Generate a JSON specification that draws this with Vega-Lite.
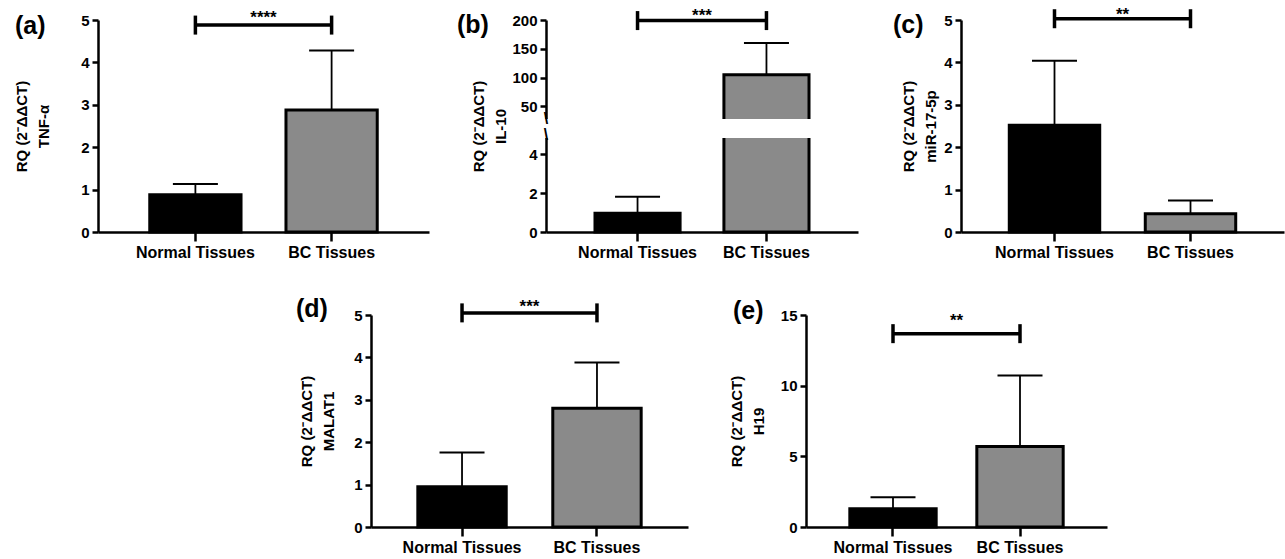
{
  "$schema": "https://vega.github.io/schema/vega-lite/v6.json",
  "background": "white",
  "padding": {"left": 14, "top": 6, "right": 5, "bottom": 5},
  "config": {
    "view": {"stroke": null},
    "font": "Liberation Sans",
    "axis": {"domainColor": "#000", "domainWidth": 2.5, "tickColor": "#000", "tickWidth": 2.5, "labelColor": "#000", "labelFont": "Liberation Sans", "labelFontSize": 15, "labelFontWeight": "bold", "titleColor": "#000", "titleFont": "Liberation Sans", "titleFontSize": 15, "titleFontWeight": "bold", "grid": false, "titleLineHeight": 22, "labelOverlap": false},
    "axisX": {"labelAngle": 0, "tickSize": 9, "labelPadding": 3, "labelFontSize": 16},
    "axisY": {"tickSize": 6, "labelPadding": 3},
    "title": {"font": "Liberation Sans", "fontSize": 25, "fontWeight": "bold", "color": "#000", "anchor": "start", "frame": "group", "offset": 0, "baseline": "alphabetic"},
    "text": {"font": "Liberation Sans", "fontSize": 17, "fontWeight": "bold", "baseline": "alphabetic", "align": "center", "color": "#000"},
    "tick": {"opacity": 1, "color": "#000"}
  },
  "vconcat": [
    {
      "bounds": "flush",
      "spacing": 117,
      "hconcat": [
        {
          "width": 331, "height": 212,
          "title": {"text": "(a)", "dx": -83, "dy": 34},
          "data": {"values": [
            {"cat": "Normal Tissues", "mean": 0.88, "upper": 1.13, "sig": 4.88},
            {"cat": "BC Tissues", "mean": 2.88, "upper": 4.28, "sig": 4.88}
          ]},
          "layer": [
            {"mark": {"type": "bar", "stroke": "#000", "strokeWidth": 3},
             "encoding": {
               "x": {"field": "cat", "type": "nominal", "sort": null, "scale": {"domain": ["Normal Tissues", "BC Tissues"], "paddingInner": 0.33, "paddingOuter": 0.38}, "axis": {"title": null}},
               "y": {"field": "mean", "type": "quantitative", "scale": {"domain": [0, 5], "nice": false}, "axis": {"values": [0, 1, 2, 3, 4, 5], "title": ["RQ (2⁻ΔΔCT)", "TNF-α"], "titlePadding": 29}},
               "fill": {"field": "cat", "type": "nominal", "scale": {"domain": ["Normal Tissues", "BC Tissues"], "range": ["#000000", "#8a8a8a"]}, "legend": null}}},
            {"mark": {"type": "rule", "strokeWidth": 1.8, "color": "#000"},
             "encoding": {"x": {"field": "cat", "type": "nominal", "sort": null}, "y": {"field": "mean", "type": "quantitative"}, "y2": {"field": "upper"}}},
            {"mark": {"type": "tick", "orient": "horizontal", "size": 45, "thickness": 2, "color": "#000", "opacity": 1},
             "encoding": {"x": {"field": "cat", "type": "nominal", "sort": null}, "y": {"field": "upper", "type": "quantitative"}}},
            {"mark": {"type": "line", "strokeWidth": 3.5, "color": "#000"},
             "encoding": {"x": {"field": "cat", "type": "nominal", "sort": null}, "y": {"field": "sig", "type": "quantitative"}}},
            {"mark": {"type": "tick", "orient": "vertical", "size": 19, "thickness": 3.5, "color": "#000", "opacity": 1},
             "encoding": {"x": {"field": "cat", "type": "nominal", "sort": null}, "y": {"field": "sig", "type": "quantitative"}}},
            {"data": {"values": [{"stars": "****", "starsY": 4.93}]},
             "mark": {"type": "text"},
             "encoding": {"y": {"field": "starsY", "type": "quantitative"}, "text": {"field": "stars"}}}
          ]
        },
        {
          "bounds": "flush",
          "spacing": 103,
          "hconcat": [
            {
              "width": 312, "height": 212,
              "title": {"text": "(b)", "dx": -89, "dy": 35},
              "data": {"values": [
                {"cat": "Normal Tissues", "mean": 0.97, "upper": 1.82, "sig": 199},
                {"cat": "BC Tissues", "mean": 105, "upper": 160, "sig": 199}
              ]},
              "layer": [
                {"mark": {"type": "bar", "stroke": "#000", "strokeWidth": 3},
                 "encoding": {
                   "x": {"field": "cat", "type": "nominal", "sort": null, "scale": {"domain": ["Normal Tissues", "BC Tissues"], "paddingInner": 0.34, "paddingOuter": 0.38}, "axis": {"title": null}},
                   "y": {"field": "mean", "type": "quantitative", "scale": {"domain": [0, 5, 28, 200], "range": [212, 115, 99, 0], "nice": false, "zero": false}, "axis": {"values": [0, 2, 4, 50, 100, 150, 200], "tickCount": 10, "format": "d", "title": ["RQ (2⁻ΔΔCT)", "IL-10"], "titlePadding": 3}},
                   "fill": {"field": "cat", "type": "nominal", "scale": {"domain": ["Normal Tissues", "BC Tissues"], "range": ["#000000", "#8a8a8a"]}, "legend": null}}},
                {"mark": {"type": "rule", "strokeWidth": 1.8, "color": "#000"},
                 "encoding": {"x": {"field": "cat", "type": "nominal", "sort": null}, "y": {"field": "mean", "type": "quantitative"}, "y2": {"field": "upper"}}},
                {"mark": {"type": "tick", "orient": "horizontal", "size": 45, "thickness": 2, "color": "#000", "opacity": 1},
                 "encoding": {"x": {"field": "cat", "type": "nominal", "sort": null}, "y": {"field": "upper", "type": "quantitative"}}},
                {"data": {"values": [{"g0": 5.15, "g1": 23.7}]},
                 "mark": {"type": "rect", "fill": "white", "stroke": "white", "strokeWidth": 6},
                 "encoding": {"y": {"field": "g0", "type": "quantitative"}, "y2": {"field": "g1"}}},
                {"data": {"values": [{"cat": "Normal Tissues", "brk": 28, "glyph": "\\"}, {"cat": "Normal Tissues", "brk": 5, "glyph": "\\"}]},
                 "mark": {"type": "text", "baseline": "middle", "fontSize": 16, "fontWeight": "bold"},
                 "encoding": {"x": {"field": "cat", "type": "nominal", "sort": null, "bandPosition": -0.576}, "y": {"field": "brk", "type": "quantitative"}, "text": {"field": "glyph"}}},
                {"mark": {"type": "line", "strokeWidth": 3.5, "color": "#000"},
                 "encoding": {"x": {"field": "cat", "type": "nominal", "sort": null}, "y": {"field": "sig", "type": "quantitative"}}},
                {"mark": {"type": "tick", "orient": "vertical", "size": 19, "thickness": 3.5, "color": "#000", "opacity": 1},
                 "encoding": {"x": {"field": "cat", "type": "nominal", "sort": null}, "y": {"field": "sig", "type": "quantitative"}}},
                {"data": {"values": [{"stars": "***", "starsY": 199}]},
                 "mark": {"type": "text"},
                 "encoding": {"y": {"field": "starsY", "type": "quantitative"}, "text": {"field": "stars"}}}
              ]
            },
            {
              "width": 323, "height": 212,
              "title": {"text": "(c)", "dx": -68, "dy": 36},
              "data": {"values": [
                {"cat": "Normal Tissues", "mean": 2.52, "upper": 4.04, "sig": 5.03},
                {"cat": "BC Tissues", "mean": 0.43, "upper": 0.74, "sig": 5.03}
              ]},
              "layer": [
                {"mark": {"type": "bar", "stroke": "#000", "strokeWidth": 3},
                 "encoding": {
                   "x": {"field": "cat", "type": "nominal", "sort": null, "scale": {"domain": ["Normal Tissues", "BC Tissues"], "paddingInner": 0.335, "paddingOuter": 0.355}, "axis": {"title": null}},
                   "y": {"field": "mean", "type": "quantitative", "scale": {"domain": [0, 5], "nice": false}, "axis": {"values": [0, 1, 2, 3, 4, 5], "title": ["RQ (2⁻ΔΔCT)", "miR-17-5p"], "titlePadding": 5}},
                   "fill": {"field": "cat", "type": "nominal", "scale": {"domain": ["Normal Tissues", "BC Tissues"], "range": ["#000000", "#8a8a8a"]}, "legend": null}}},
                {"mark": {"type": "rule", "strokeWidth": 1.8, "color": "#000"},
                 "encoding": {"x": {"field": "cat", "type": "nominal", "sort": null}, "y": {"field": "mean", "type": "quantitative"}, "y2": {"field": "upper"}}},
                {"mark": {"type": "tick", "orient": "horizontal", "size": 45, "thickness": 2, "color": "#000", "opacity": 1},
                 "encoding": {"x": {"field": "cat", "type": "nominal", "sort": null}, "y": {"field": "upper", "type": "quantitative"}}},
                {"mark": {"type": "line", "strokeWidth": 3.5, "color": "#000"},
                 "encoding": {"x": {"field": "cat", "type": "nominal", "sort": null}, "y": {"field": "sig", "type": "quantitative"}}},
                {"mark": {"type": "tick", "orient": "vertical", "size": 19, "thickness": 3.5, "color": "#000", "opacity": 1},
                 "encoding": {"x": {"field": "cat", "type": "nominal", "sort": null}, "y": {"field": "sig", "type": "quantitative"}}},
                {"data": {"values": [{"stars": "**", "starsY": 5.0}]},
                 "mark": {"type": "text"},
                 "encoding": {"y": {"field": "starsY", "type": "quantitative"}, "text": {"field": "stars"}}}
              ]
            }
          ]
        }
      ]
    },
    {
      "bounds": "flush",
      "spacing": 118,
      "hconcat": [
        {"width": 155, "height": 10, "data": {"values": [{}]}, "mark": {"type": "point", "opacity": 0}},
        {
          "width": 317, "height": 212,
          "title": {"text": "(d)", "dx": -75, "dy": 28},
          "data": {"values": [
            {"cat": "Normal Tissues", "mean": 0.95, "upper": 1.76, "sig": 5.05},
            {"cat": "BC Tissues", "mean": 2.80, "upper": 3.88, "sig": 5.05}
          ]},
          "layer": [
            {"mark": {"type": "bar", "stroke": "#000", "strokeWidth": 3},
             "encoding": {
               "x": {"field": "cat", "type": "nominal", "sort": null, "scale": {"domain": ["Normal Tissues", "BC Tissues"], "paddingInner": 0.345, "paddingOuter": 0.347}, "axis": {"title": null}},
               "y": {"field": "mean", "type": "quantitative", "scale": {"domain": [0, 5], "nice": false}, "axis": {"values": [0, 1, 2, 3, 4, 5], "title": ["RQ (2⁻ΔΔCT)", "MALAT1"], "titlePadding": 17}},
               "fill": {"field": "cat", "type": "nominal", "scale": {"domain": ["Normal Tissues", "BC Tissues"], "range": ["#000000", "#8a8a8a"]}, "legend": null}}},
            {"mark": {"type": "rule", "strokeWidth": 1.8, "color": "#000"},
             "encoding": {"x": {"field": "cat", "type": "nominal", "sort": null}, "y": {"field": "mean", "type": "quantitative"}, "y2": {"field": "upper"}}},
            {"mark": {"type": "tick", "orient": "horizontal", "size": 45, "thickness": 2, "color": "#000", "opacity": 1},
             "encoding": {"x": {"field": "cat", "type": "nominal", "sort": null}, "y": {"field": "upper", "type": "quantitative"}}},
            {"mark": {"type": "line", "strokeWidth": 3.5, "color": "#000"},
             "encoding": {"x": {"field": "cat", "type": "nominal", "sort": null}, "y": {"field": "sig", "type": "quantitative"}}},
            {"mark": {"type": "tick", "orient": "vertical", "size": 19, "thickness": 3.5, "color": "#000", "opacity": 1},
             "encoding": {"x": {"field": "cat", "type": "nominal", "sort": null}, "y": {"field": "sig", "type": "quantitative"}}},
            {"data": {"values": [{"stars": "***", "starsY": 5.07}]},
             "mark": {"type": "text"},
             "encoding": {"y": {"field": "starsY", "type": "quantitative"}, "text": {"field": "stars"}}}
          ]
        },
        {
          "width": 301, "height": 212,
          "title": {"text": "(e)", "dx": -73, "dy": 20},
          "data": {"values": [
            {"cat": "Normal Tissues", "mean": 1.30, "upper": 2.10, "sig": 13.68},
            {"cat": "BC Tissues", "mean": 5.70, "upper": 10.72, "sig": 13.68}
          ]},
          "layer": [
            {"mark": {"type": "bar", "stroke": "#000", "strokeWidth": 3},
             "encoding": {
               "x": {"field": "cat", "type": "nominal", "sort": null, "scale": {"domain": ["Normal Tissues", "BC Tissues"], "paddingInner": 0.32, "paddingOuter": 0.345}, "axis": {"title": null}},
               "y": {"field": "mean", "type": "quantitative", "scale": {"domain": [0, 15], "nice": false}, "axis": {"values": [0, 5, 10, 15], "title": ["RQ (2⁻ΔΔCT)", "H19"], "titlePadding": 14}},
               "fill": {"field": "cat", "type": "nominal", "scale": {"domain": ["Normal Tissues", "BC Tissues"], "range": ["#000000", "#8a8a8a"]}, "legend": null}}},
            {"mark": {"type": "rule", "strokeWidth": 1.8, "color": "#000"},
             "encoding": {"x": {"field": "cat", "type": "nominal", "sort": null}, "y": {"field": "mean", "type": "quantitative"}, "y2": {"field": "upper"}}},
            {"mark": {"type": "tick", "orient": "horizontal", "size": 45, "thickness": 2, "color": "#000", "opacity": 1},
             "encoding": {"x": {"field": "cat", "type": "nominal", "sort": null}, "y": {"field": "upper", "type": "quantitative"}}},
            {"mark": {"type": "line", "strokeWidth": 3.5, "color": "#000"},
             "encoding": {"x": {"field": "cat", "type": "nominal", "sort": null}, "y": {"field": "sig", "type": "quantitative"}}},
            {"mark": {"type": "tick", "orient": "vertical", "size": 19, "thickness": 3.5, "color": "#000", "opacity": 1},
             "encoding": {"x": {"field": "cat", "type": "nominal", "sort": null}, "y": {"field": "sig", "type": "quantitative"}}},
            {"data": {"values": [{"stars": "**", "starsY": 14.25}]},
             "mark": {"type": "text"},
             "encoding": {"y": {"field": "starsY", "type": "quantitative"}, "text": {"field": "stars"}}}
          ]
        }
      ]
    }
  ],
  "spacing": 295,
  "bounds": "flush"
}
